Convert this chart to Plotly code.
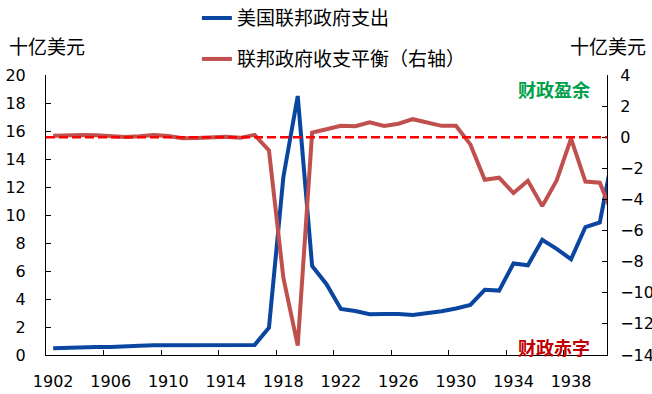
import plotly.graph_objects as go

# Fiscal years 1902-1941 (1941 lies just past the right edge and is clipped)
years = list(range(1902, 1942))

# US federal outlays, billion USD (left axis)
outlays = [0.48, 0.52, 0.58, 0.57, 0.57, 0.58, 0.66, 0.69, 0.69, 0.69,
           0.69, 0.72, 0.73, 0.75, 0.71, 1.95, 12.7, 18.5, 6.36, 5.06,
           3.29, 3.14, 2.91, 2.92, 2.93, 2.86, 2.96, 3.13, 3.32, 3.58,
           4.66, 4.60, 6.54, 6.41, 8.23, 7.58, 6.84, 9.14, 9.47, 14.8]

# Federal budget balance, billion USD (right axis)
balance = [0.10, 0.15, 0.15, 0.12, 0.05, 0.02, 0.06, 0.15, 0.08, -0.07,
           -0.05, 0.02, 0.03, -0.04, 0.15, -0.85, -9.03, -13.4, 0.30, 0.51,
           0.74, 0.71, 0.96, 0.72, 0.87, 1.16, 0.94, 0.73, 0.74, -0.46,
           -2.74, -2.60, -3.59, -2.80, -4.43, -2.78, -0.09, -2.85, -2.92, -5.2]

label_years = list(range(1902, 1941, 4))
boundary_ticks = [y + 3.5 for y in label_years[:-1]]
left_ticks = list(range(0, 21, 2))
right_ticks = list(range(-14, 5, 2))

BLUE = "#0A46A0"
RED = "#C0504D"
CJK = "Noto Sans CJK SC"
NUM = "DejaVu Sans"

fig = go.Figure()
fig.add_trace(go.Scatter(
    x=years, y=outlays, mode="lines", name="美国联邦政府支出",
    line=dict(color=BLUE, width=4), legend="legend",
))
fig.add_trace(go.Scatter(
    x=years, y=balance, mode="lines", name="联邦政府收支平衡（右轴）",
    line=dict(color=RED, width=4), yaxis="y2", legend="legend2",
))

# zero line of the balance axis
fig.add_shape(type="line", xref="paper", x0=0, x1=1, yref="y2", y0=0, y1=0,
              line=dict(color="#FF0000", width=2.5, dash="9px,4px"), layer="above")

fig.update_layout(
    width=652, height=394,
    showlegend=True,
    margin=dict(l=46, r=45, t=75, b=39, autoexpand=False),
    plot_bgcolor="white", paper_bgcolor="white",
    font=dict(family=NUM, size=16, color="black"),
    xaxis=dict(
        range=[1901.5, 1940.5], tickvals=label_years, ticktext=[str(y) for y in label_years],
        ticks="", showgrid=False, zeroline=False, showline=True, linecolor="black", linewidth=1,
        ticklabelstandoff=12, tickfont=dict(family=NUM, size=16), automargin=False,
        minor=dict(tickvals=boundary_ticks, ticks="inside", ticklen=5, tickcolor="black", showgrid=False),
    ),
    yaxis=dict(
        range=[0, 20], tickvals=left_ticks, ticks="inside", ticklen=5, tickcolor="black",
        showgrid=False, zeroline=False, showline=True, linecolor="black", linewidth=1,
        ticklabelstandoff=16, tickfont=dict(family=NUM, size=16), automargin=False,
    ),
    yaxis2=dict(
        range=[-14, 4], tickvals=right_ticks, ticks="inside", ticklen=5, tickcolor="black",
        overlaying="y", side="right", anchor="x",
        showgrid=False, zeroline=False, showline=True, linecolor="black", linewidth=1,
        ticklabelstandoff=9, tickfont=dict(family=NUM, size=16), automargin=False,
    ),
    legend=dict(xref="container", yref="container", x=0.302, y=0.954,
                xanchor="left", yanchor="middle",
                font=dict(family=CJK, size=19), bgcolor="rgba(0,0,0,0)"),
    legend2=dict(xref="container", yref="container", x=0.302, y=0.850,
                 xanchor="left", yanchor="middle",
                 font=dict(family=CJK, size=19), bgcolor="rgba(0,0,0,0)"),
    annotations=[
        dict(text="十亿美元", xref="paper", yref="paper", x=-0.069, y=1.107,
             xanchor="left", yanchor="middle", showarrow=False,
             font=dict(family=CJK, size=19)),
        dict(text="十亿美元", xref="paper", yref="paper", x=1.0736, y=1.107,
             xanchor="right", yanchor="middle", showarrow=False,
             font=dict(family=CJK, size=19)),
        dict(text="<b>财政盈余</b>", xref="paper", yref="paper", x=0.905, y=0.95,
             xanchor="center", yanchor="middle", showarrow=False,
             font=dict(family=CJK, size=18, color="#00A04A")),
        dict(text="<b>财政赤字</b>", xref="paper", yref="paper", x=0.905, y=0.03,
             xanchor="center", yanchor="middle", showarrow=False,
             font=dict(family=CJK, size=18, color="#C00000")),
    ],
)

fig.write_html("out.html")
